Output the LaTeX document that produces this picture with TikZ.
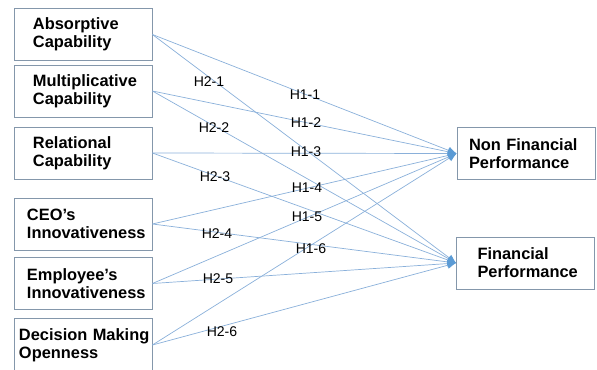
\documentclass[tikz,border=0pt]{standalone}
\usepackage{fontspec}
\setmainfont{Liberation Sans}
\usetikzlibrary{arrows.meta}
\definecolor{BoxLine}{HTML}{8497AB}
\definecolor{LinkBlue}{HTML}{8AB0DA}
\definecolor{TipBlue}{HTML}{5B9BD5}

\begin{document}
\begin{tikzpicture}[x=0.03cm,y=-0.03cm,
    factor/.style 2 args={draw=BoxLine,line width=0.7pt,minimum height=1.56cm,
      inner xsep=#1,text width=#2,align=left,
      font=\bfseries\fontsize{14}{15.5}\selectfont},
    hyp/.style={font=\fontsize{12}{14}\selectfont,inner sep=1pt},
    link/.style={draw=LinkBlue,line width=0.6pt,
      -{Latex[length=2.6mm,width=2.2mm,color=TipBlue]}}
  ]
    \useasboundingbox (0,0) rectangle (597,369);

    \node[factor={0.57cm}{3.0cm}] (abs) at (83,34.5) {Absorptive\\Capability};
    \node[factor={0.57cm}{3.0cm}] (mul) at (83,91) {Multiplicative\\Capability};
    \node[factor={0.57cm}{3.0cm}] (rel) at (83,153) {Relational\\Capability};
    \node[factor={0.39cm}{3.36cm}] (ceo) at (83,224) {CEO’s\\Innovativeness};
    \node[factor={0.39cm}{3.36cm}] (emp) at (83,283.5) {Employee’s\\Innovativeness};
    \node[factor={0.15cm}{3.84cm},minimum height=1.62cm] (dmo) at (83,345)
      {\mbox{Decision Making}\\Openness};

    \node[factor={0.36cm}{3.42cm}] (nf) at (526,153.5) {Non Financial\\Performance};
    \node[factor={0.63cm}{2.88cm}] (fp) at (525.5,263) {Financial\\Performance};

    \draw[link] (abs.east) -- (nf.west); \draw[link] (abs.east) -- (fp.west);
    \draw[link] (mul.east) -- (nf.west); \draw[link] (mul.east) -- (fp.west);
    \draw[link] (rel.east) -- (nf.west); \draw[link] (rel.east) -- (fp.west);
    \draw[link] (ceo.east) -- (nf.west); \draw[link] (ceo.east) -- (fp.west);
    \draw[link] (emp.east) -- (nf.west); \draw[link] (emp.east) -- (fp.west);
    \draw[link] (dmo.east) -- (nf.west); \draw[link] (dmo.east) -- (fp.west);

    % hypothesis labels
    \node[hyp] (h11) at (305,95) {H1-1};
    \node[hyp] (h12) at (306,123) {H1-2};
    \node[hyp] (h13) at (306,152) {H1-3};
    \node[hyp] (h14) at (307,188) {H1-4};
    \node[hyp] (h15) at (307,217) {H1-5};
    \node[hyp] (h16) at (311,249) {H1-6};
    \node[hyp] (h21) at (209,82) {H2-1};
    \node[hyp] (h22) at (214,128) {H2-2};
    \node[hyp] (h23) at (215,177) {H2-3};
    \node[hyp] (h24) at (217,234) {H2-4};
    \node[hyp] (h25) at (218,279) {H2-5};
    \node[hyp] (h26) at (222,332) {H2-6};
  \end{tikzpicture}
\end{document}
